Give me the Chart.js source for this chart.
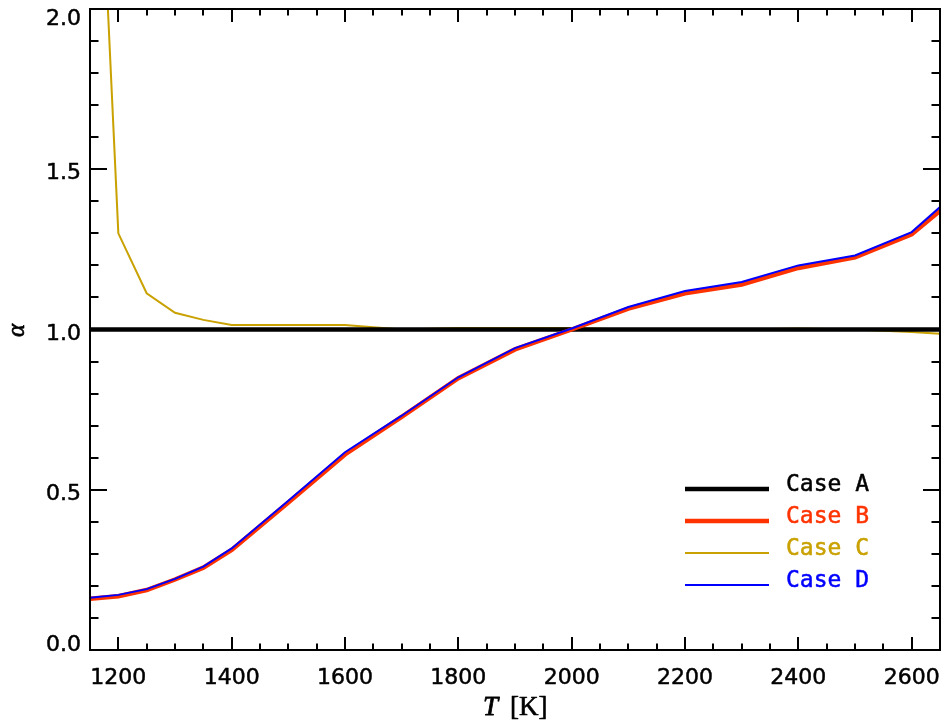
<!DOCTYPE html>
<html>
<head>
<meta charset="utf-8">
<script src="https://cdn.jsdelivr.net/npm/chart.js@4.4.1/dist/chart.umd.min.js"></script>
<style>
  html, body { margin: 0; padding: 0; background: #fff; }
  #wrap { width: 943px; height: 724px; position: relative; }
</style>
</head>
<body>
<div id="wrap"><canvas id="c" width="943" height="724"></canvas></div>
<script>
// ---- data ----
const temperatures = [1150, 1200, 1250, 1300, 1350, 1400, 1500, 1600, 1700, 1800, 1900, 2000, 2100, 2200, 2300, 2400, 2500, 2600, 2650];
const caseA = [1.0, 1.0, 1.0, 1.0, 1.0, 1.0, 1.0, 1.0, 1.0, 1.0, 1.0, 1.0, 1.0, 1.0, 1.0, 1.0, 1.0, 1.0, 1.0];
const caseB = [0.160, 0.168, 0.187, 0.220, 0.257, 0.312, 0.460, 0.610, 0.727, 0.848, 0.938, 1.000, 1.065, 1.113, 1.140, 1.192, 1.225, 1.297, 1.370];
const caseC = [3.20, 1.300, 1.113, 1.052, 1.030, 1.014, 1.014, 1.014, 1.000, 1.005, 1.005, 1.005, 1.000, 1.000, 1.000, 1.003, 1.000, 0.992, 0.987];
const caseD = [0.163, 0.172, 0.190, 0.222, 0.260, 0.317, 0.466, 0.617, 0.731, 0.851, 0.942, 1.003, 1.070, 1.120, 1.148, 1.200, 1.231, 1.304, 1.382];
const seriesNames = ['Case A', 'Case B', 'Case C', 'Case D'];
const xTickValues = [1200, 1400, 1600, 1800, 2000, 2200, 2400, 2600];
const yTickValues = [0.0, 0.5, 1.0, 1.5, 2.0];
const xRange = [1150, 2650];
const yRange = [0, 2.0];
const xMinorStep = 50;
const yMinorStep = 0.1;

const colors = ['#000000', '#ff3300', '#c9a100', '#0000ff'];
const widths = [4.5, 4.5, 2, 2];
const orders = [2, 1, 3, 0];

const toPts = arr => arr.map((v, i) => ({ x: temperatures[i], y: v }));
const allSeries = [caseA, caseB, caseC, caseD];

function boldText(ctx, txt, x, y, w) {
  ctx.lineWidth = w;
  ctx.strokeStyle = ctx.fillStyle;
  ctx.lineJoin = 'round';
  ctx.strokeText(txt, x, y);
  ctx.fillText(txt, x, y);
}

const axesPlugin = {
  id: 'idlAxes',
  afterDraw(chart) {
    const ctx = chart.ctx;
    const a = chart.chartArea;
    const xs = chart.scales.x, ys = chart.scales.y;
    ctx.save();
    ctx.strokeStyle = '#000';
    ctx.lineWidth = 2;
    ctx.strokeRect(a.left, a.top, a.right - a.left, a.bottom - a.top);

    const xMajLen = 13, xMinLen = 6.5, yMajLen = 17, yMinLen = 8.5;
    ctx.beginPath();
    for (let v = xRange[0]; v <= xRange[1] + 1e-6; v += xMinorStep) {
      const px = Math.round(xs.getPixelForValue(v));
      const major = xTickValues.includes(v);
      const len = major ? xMajLen : xMinLen;
      ctx.moveTo(px, a.bottom); ctx.lineTo(px, a.bottom - len);
      ctx.moveTo(px, a.top); ctx.lineTo(px, a.top + len);
    }
    for (let i = 0; i <= Math.round((yRange[1] - yRange[0]) / yMinorStep); i++) {
      const v = yRange[0] + i * yMinorStep;
      const py = Math.round(ys.getPixelForValue(v));
      const major = (i % 5) === 0;
      const len = major ? yMajLen : yMinLen;
      ctx.moveTo(a.left, py); ctx.lineTo(a.left + len, py);
      ctx.moveTo(a.right, py); ctx.lineTo(a.right - len, py);
    }
    ctx.stroke();

    // tick labels
    ctx.fillStyle = '#000';
    ctx.font = '22px "DejaVu Sans"';
    ctx.textAlign = 'center';
    ctx.textBaseline = 'alphabetic';
    xTickValues.forEach(v => {
      boldText(ctx, String(v), xs.getPixelForValue(v), a.bottom + 34, 0.5);
    });
    ctx.textAlign = 'right';
    yTickValues.forEach(v => {
      const py = ys.getPixelForValue(v);
      let base = py + 10;
      base = Math.max(base, a.top + 16);
      base = Math.min(base, a.bottom + 1);
      boldText(ctx, v.toFixed(1), a.left - 9, base, 0.5);
    });

    // axis titles
    ctx.textAlign = 'left';
    ctx.font = 'italic 27px "Liberation Serif"';
    const tW = ctx.measureText('T').width;
    ctx.font = '27px "Liberation Serif"';
    const startX = 483;
    ctx.font = 'italic 27px "Liberation Serif"';
    boldText(ctx, 'T', startX, 715, 0.8);
    ctx.font = '27px "Liberation Serif"';
    boldText(ctx, '[K]', 510, 715, 0.6);

    ctx.save();
    ctx.translate(24, (a.top + a.bottom) / 2 + 1);
    ctx.rotate(-Math.PI / 2);
    ctx.textAlign = 'center';
    ctx.font = 'italic 25px "Liberation Serif"';
    boldText(ctx, 'α', 0, 0, 0.6);
    ctx.restore();

    // legend
    const ds = chart.data.datasets;
    ctx.font = '23px "DejaVu Sans Mono"';
    ctx.textAlign = 'left';
    ds.forEach((d, i) => {
      const ly = 489 + i * 32;
      ctx.strokeStyle = d.borderColor;
      ctx.lineWidth = d.borderWidth;
      ctx.beginPath();
      ctx.moveTo(685, ly); ctx.lineTo(769, ly);
      ctx.stroke();
      ctx.fillStyle = d.borderColor;
      boldText(ctx, d.label, 786, ly + 2, 0.5);
    });
    ctx.restore();
  }
};

new Chart(document.getElementById('c'), {
  type: 'line',
  data: {
    datasets: allSeries.map((s, i) => ({
      label: seriesNames[i],
      data: toPts(s),
      borderColor: colors[i],
      backgroundColor: colors[i],
      borderWidth: widths[i],
      pointRadius: 0,
      tension: 0,
      fill: false,
      order: orders[i]
    }))
  },
  options: {
    responsive: false,
    animation: false,
    events: [],
    layout: { padding: { left: 90, right: 3, top: 9, bottom: 74 } },
    plugins: { legend: { display: false }, tooltip: { enabled: false } },
    scales: {
      x: { type: 'linear', min: xRange[0], max: xRange[1], display: false },
      y: { type: 'linear', min: yRange[0], max: yRange[1], display: false }
    }
  },
  plugins: [axesPlugin]
});
</script>
</body>
</html>
